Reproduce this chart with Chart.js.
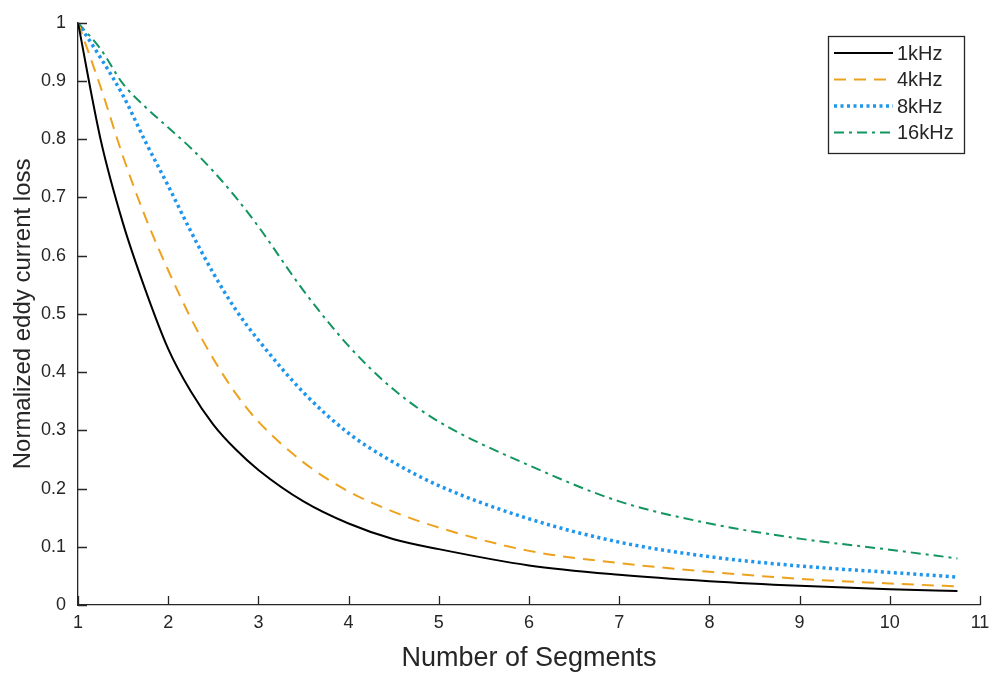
<!DOCTYPE html>
<html>
<head>
<meta charset="utf-8">
<script src="https://cdn.jsdelivr.net/npm/chart.js@4.4.1/dist/chart.umd.min.js"></script>
<style>
  html, body { margin: 0; padding: 0; background: #fff; }
  #wrap { width: 1001px; height: 675px; }
</style>
</head>
<body>
<div id="wrap"><canvas id="chart" width="1001" height="675"></canvas></div>
<script>
// segment counts (x) shared by all series
const segments = [1, 1.25, 1.5, 1.75, 2, 2.25, 2.5, 2.75, 3, 3.5, 4, 4.5, 5, 6, 7, 8, 9, 10, 10.75]

// normalized loss per frequency
const loss1k  = [1.0, 0.80, 0.655, 0.54, 0.44, 0.367, 0.31, 0.267, 0.232, 0.178, 0.14, 0.113, 0.096, 0.068, 0.052, 0.041, 0.033, 0.027, 0.024]
const loss4k  = [1.0, 0.89, 0.77, 0.665, 0.575, 0.493, 0.423, 0.363, 0.315, 0.245, 0.195, 0.16, 0.133, 0.093, 0.072, 0.057, 0.045, 0.037, 0.032]
const loss8k  = [1.0, 0.94, 0.875, 0.795, 0.72, 0.642, 0.57, 0.507, 0.455, 0.365, 0.295, 0.245, 0.205, 0.148, 0.108, 0.083, 0.067, 0.056, 0.048]
const loss16k = [1.0, 0.955, 0.895, 0.855, 0.82, 0.785, 0.745, 0.70, 0.65, 0.54, 0.445, 0.37, 0.315, 0.24, 0.178, 0.14, 0.114, 0.095, 0.08]

const seriesLabels = ['1kHz', '4kHz', '8kHz', '16kHz']

const FONT = '"Liberation Sans", Arial, sans-serif'

const toPoints = (ys) => segments.map((x, i) => ({ x: x, y: ys[i] }))

// inward tick marks, like the original figure
const innerTicks = {
  id: 'innerTicks',
  afterDraw(chart) {
    const { ctx, scales: { x, y }, chartArea } = chart
    ctx.save()
    ctx.strokeStyle = '#262626'
    ctx.lineWidth = 1.3
    ctx.beginPath()
    x.ticks.forEach(t => {
      const px = Math.round(x.getPixelForValue(t.value)) + 0.5
      ctx.moveTo(px, chartArea.bottom)
      ctx.lineTo(px, chartArea.bottom - 9)
    })
    y.ticks.forEach(t => {
      const py = Math.round(y.getPixelForValue(t.value)) + 0.5
      ctx.moveTo(chartArea.left, py)
      ctx.lineTo(chartArea.left + 9, py)
    })
    ctx.stroke()
    ctx.restore()
  }
}

// boxed legend in the upper right corner
const boxLegend = {
  id: 'boxLegend',
  afterDraw(chart) {
    const ctx = chart.ctx
    const left = 828, top = 36, w = 136, h = 117
    ctx.save()
    ctx.fillStyle = '#fff'
    ctx.fillRect(left, top, w, h)
    ctx.strokeStyle = '#262626'
    ctx.lineWidth = 1.3
    ctx.strokeRect(left + 0.5, top + 0.5, w, h)
    ctx.font = '20px ' + FONT
    ctx.textBaseline = 'middle'
    chart.data.datasets.forEach((ds, i) => {
      const rowY = 53 + i * 26.5
      ctx.strokeStyle = ds.borderColor
      ctx.lineWidth = ds.borderWidth
      ctx.setLineDash(ds.borderDash || [])
      ctx.beginPath()
      ctx.moveTo(834, rowY)
      ctx.lineTo(893, rowY)
      ctx.stroke()
      ctx.setLineDash([])
      ctx.fillStyle = '#262626'
      ctx.fillText(ds.label, 897, rowY + 1)
    })
    ctx.restore()
  }
}

const colors = ['#000000', '#EDA21E', '#1E96EE', '#12955E']
const dashes = [[], [12, 8], [3, 3.5], [10, 5, 3, 5]]
const widths = [2, 2, 3.5, 2]
const allLoss = [loss1k, loss4k, loss8k, loss16k]

new Chart(document.getElementById('chart'), {
  type: 'line',
  data: {
    datasets: allLoss.map((ys, i) => ({
      label: seriesLabels[i],
      data: toPoints(ys),
      borderColor: colors[i],
      borderWidth: widths[i],
      borderDash: dashes[i],
      pointRadius: 0,
      fill: false,
      cubicInterpolationMode: 'monotone'
    }))
  },
  options: {
    responsive: false,
    animation: false,
    layout: { padding: { top: 20, right: 21, left: 0, bottom: 0 } },
    plugins: {
      legend: { display: false },
      tooltip: { enabled: false }
    },
    scales: {
      x: {
        type: 'linear',
        min: 1,
        max: 11,
        ticks: {
          stepSize: 1,
          color: '#262626',
          font: { family: FONT, size: 18 },
          padding: 7,
          maxRotation: 0
        },
        grid: { display: false, drawTicks: false },
        border: { display: true, color: '#262626', width: 1.3 },
        title: {
          display: true,
          text: 'Number of Segments',
          color: '#262626',
          font: { family: FONT, size: 27 },
          padding: { top: 3, bottom: 0 }
        },
        afterFit(scale) { scale.height = 70 }
      },
      y: {
        min: 0,
        max: 1,
        ticks: {
          stepSize: 0.1,
          color: '#262626',
          font: { family: FONT, size: 18 },
          padding: 12,
          callback: (v) => String(Math.round(v * 10) / 10)
        },
        grid: { display: false, drawTicks: false },
        border: { display: true, color: '#262626', width: 1.3 },
        title: {
          display: true,
          text: 'Normalized eddy current loss',
          color: '#262626',
          font: { family: FONT, size: 24 },
          padding: { top: 9, bottom: 0 }
        },
        afterFit(scale) { scale.width = 78 }
      }
    }
  },
  plugins: [innerTicks, boxLegend]
})
</script>
</body>
</html>
